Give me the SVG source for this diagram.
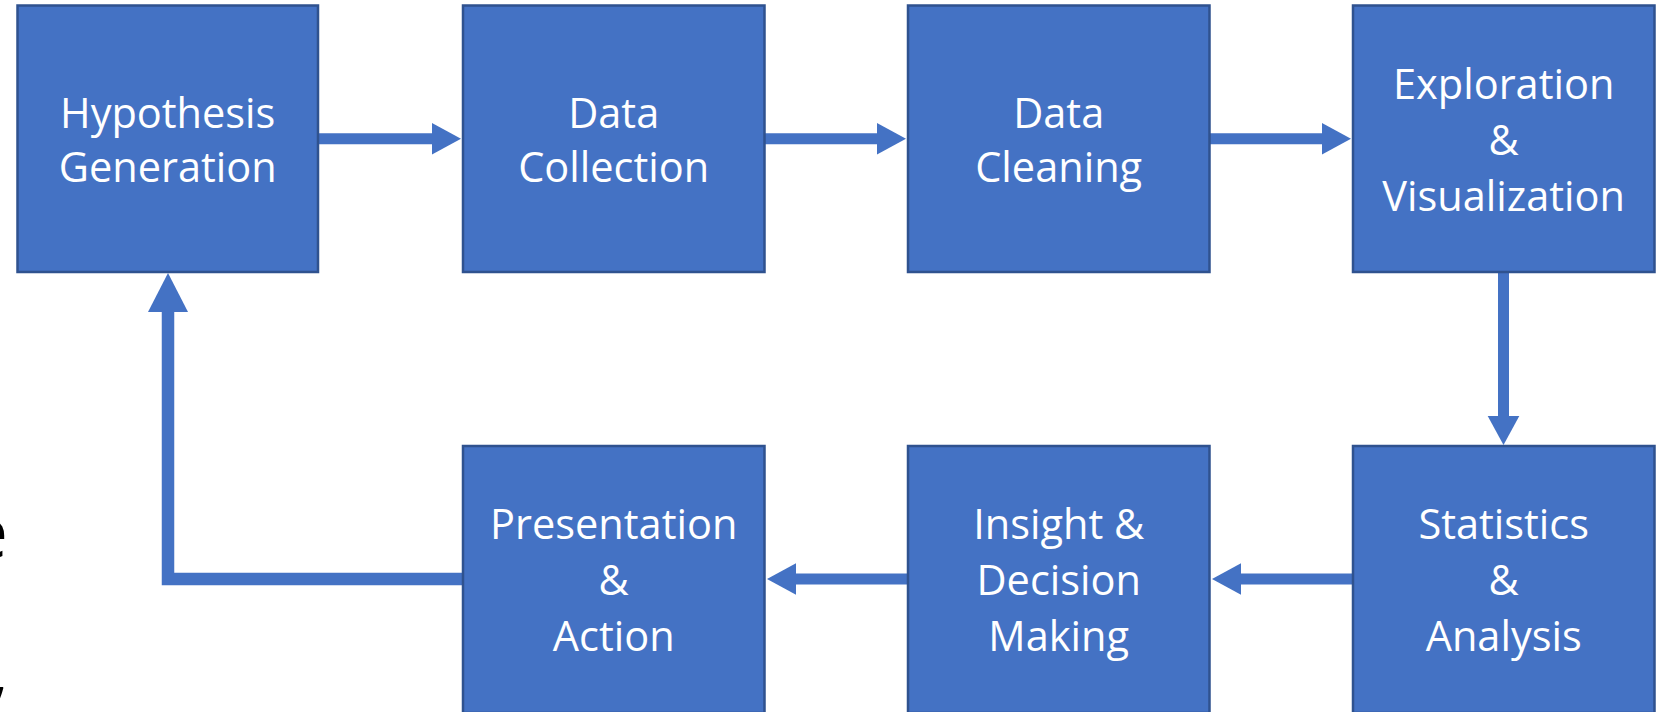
<svg xmlns="http://www.w3.org/2000/svg" width="1665" height="712" viewBox="0 0 1665 712">
<defs>
<style>
.box{fill:#4472C4;stroke:#2F528F;stroke-width:2.5}
.lbl{fill:#ffffff;font-family:"Open Sans","Noto Sans","Liberation Sans",sans-serif;font-size:41.5px;text-anchor:middle}
.ln{fill:none;stroke:#4472C4;stroke-width:11}
.hd{fill:#4472C4}
.frag{fill:#000000;font-family:"Open Sans","Liberation Sans",sans-serif;font-size:74px;text-anchor:end}
</style>
</defs>
<rect width="1665" height="712" fill="#ffffff"/>
<text class="frag" x="8" y="558">e</text>
<text class="frag" x="9" y="696">,</text>
<g id="connectors">
<line class="ln" x1="318" y1="138.8" x2="433" y2="138.8"/>
<polygon class="hd" points="432,123 461,138.8 432,154.6"/>
<line class="ln" x1="765" y1="138.8" x2="878" y2="138.8"/>
<polygon class="hd" points="877,123 906,138.8 877,154.6"/>
<line class="ln" x1="1210" y1="138.8" x2="1323" y2="138.8"/>
<polygon class="hd" points="1322,123 1351,138.8 1322,154.6"/>
<line class="ln" x1="1503.5" y1="272" x2="1503.5" y2="417"/>
<polygon class="hd" points="1487.7,416 1503.5,445 1519.3,416"/>
<line class="ln" x1="1353" y1="579" x2="1240" y2="579"/>
<polygon class="hd" points="1241,563.2 1212,579 1241,594.8"/>
<line class="ln" x1="908" y1="579" x2="795" y2="579"/>
<polygon class="hd" points="796,563.2 767,579 796,594.8"/>
<polyline class="ln" style="stroke-width:12.5" points="463,579 168,579 168,310"/>
<polygon class="hd" points="148,312 168,273 188,312"/>
</g>
<g id="n1"><rect class="box" x="17.5" y="5.5" width="300.5" height="266.5"/>
<text class="lbl" x="167.7" y="128">Hypothesis</text><text class="lbl" x="167.7" y="182">Generation</text></g>
<g id="n2"><rect class="box" x="463" y="5.5" width="301.5" height="266.5"/>
<text class="lbl" x="613.7" y="128">Data</text><text class="lbl" x="613.7" y="182">Collection</text></g>
<g id="n3"><rect class="box" x="908" y="5.5" width="301.5" height="266.5"/>
<text class="lbl" x="1058.7" y="128">Data</text><text class="lbl" x="1058.7" y="182">Cleaning</text></g>
<g id="n4"><rect class="box" x="1353" y="5.5" width="301.5" height="266.5"/>
<text class="lbl" x="1503.7" y="99">Exploration</text><text class="lbl" x="1503.7" y="155">&amp;</text><text class="lbl" x="1503.7" y="211">Visualization</text></g>
<g id="n5"><rect class="box" x="1353" y="446" width="301.5" height="267"/>
<text class="lbl" x="1503.7" y="539">Statistics</text><text class="lbl" x="1503.7" y="595">&amp;</text><text class="lbl" x="1503.7" y="651">Analysis</text></g>
<g id="n6"><rect class="box" x="908" y="446" width="301.5" height="267"/>
<text class="lbl" x="1058.7" y="539">Insight &amp;</text><text class="lbl" x="1058.7" y="595">Decision</text><text class="lbl" x="1058.7" y="651">Making</text></g>
<g id="n7"><rect class="box" x="463" y="446" width="301.5" height="267"/>
<text class="lbl" x="613.7" y="539">Presentation</text><text class="lbl" x="613.7" y="595">&amp;</text><text class="lbl" x="613.7" y="651">Action</text></g>
</svg>
